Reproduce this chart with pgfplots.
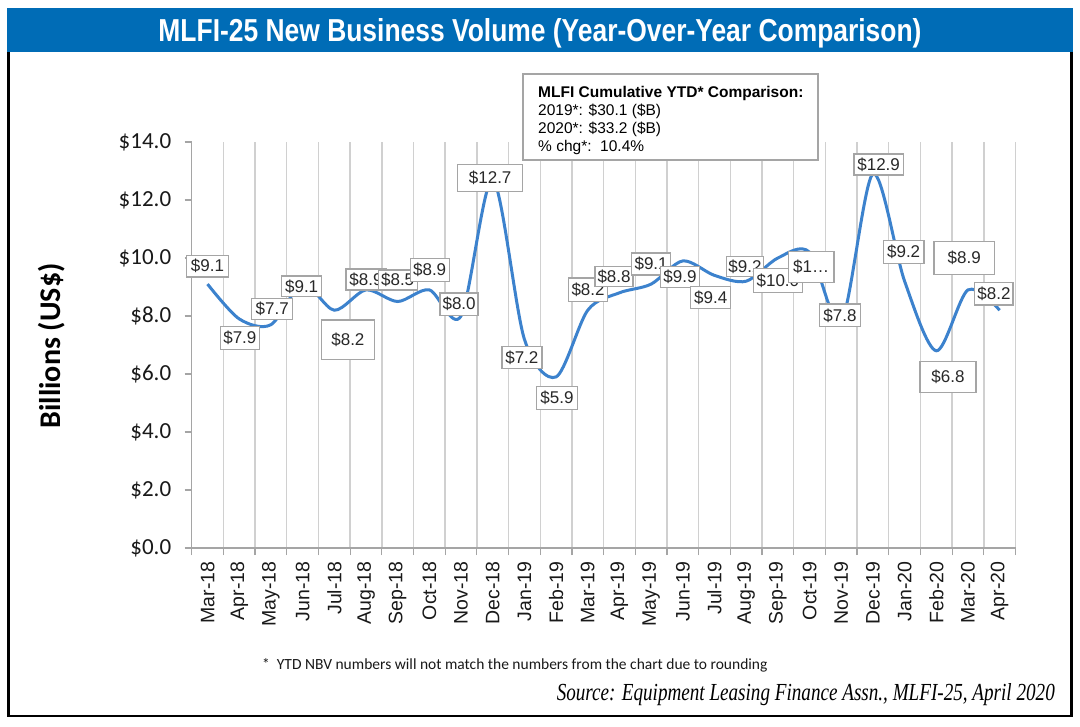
\documentclass[border=0pt]{standalone}
\usepackage{fontspec}
\setmainfont{Liberation Sans}
\newfontfamily\carlito{Carlito}
\newfontfamily\lserif{Liberation Serif}
\usepackage{graphicx}
\usepackage{pgfplots}
\usepackage{pgfplotstable}
\pgfplotsset{compat=1.18}
\definecolor{titleblue}{RGB}{0,108,182}
\definecolor{lineblue}{RGB}{60,130,205}
\definecolor{gridgray}{RGB}{208,208,208}
\definecolor{axisgray}{RGB}{165,165,165}
\definecolor{boxgray}{RGB}{165,165,165}
\definecolor{labeltext}{RGB}{40,40,40}
\definecolor{ticktext}{RGB}{25,25,25}

\pgfplotstableread{
x y
0 9.1
1 7.9
2 7.7
3 9.1
4 8.2
5 8.9
6 8.5
7 8.9
8 8.0
9 12.7
10 7.2
11 5.9
12 8.2
13 8.8
14 9.1
15 9.9
16 9.4
17 9.2
18 10.0
19 10.2
20 7.8
21 12.9
22 9.2
23 6.8
24 8.9
25 8.2
}\datatable

\pgfplotstableread{
lx ly w h t
0.00 9.72 41.6 21.7 \$9.1
1.02 7.24 39.3 22.6 \$7.9
2.04 8.24 41.0 21.0 \$7.7
2.97 9.02 40.0 20.7 \$9.1
4.43 7.18 53.3 39.3 \$8.2
5.00 9.26 40.0 21.0 \$8.9
6.00 9.24 39.0 20.0 \$8.5
7.01 9.59 39.0 22.7 \$8.9
7.94 8.41 38.0 22.3 \$8.0
8.92 12.76 65.0 27.0 \$12.7
9.92 6.57 40.0 21.6 \$7.2
11.03 5.17 40.6 23.0 \$5.9
12.01 8.90 39.0 23.7 \$8.2
12.83 9.36 38.0 20.0 \$8.8
14.00 9.79 39.0 22.0 \$9.1
14.91 9.34 39.3 20.6 \$9.9
15.88 8.64 40.0 21.6 \$9.4
16.96 9.70 36.7 20.0 \$9.2
18.00 9.22 48.7 24.4 \$10.0
19.05 9.69 45.7 31.0 \$1\ldots
19.96 8.02 40.7 22.7 \$7.8
21.18 13.22 49.3 21.0 \$12.9
21.97 10.21 40.7 22.6 \$9.2
23.37 5.90 56.0 31.0 \$6.8
23.88 10.00 60.3 33.3 \$8.9
24.82 8.76 38.3 22.3 \$8.2
}\labeltable

\begin{document}
\begin{tikzpicture}[x=1pt,y=1pt]
\useasboundingbox (0,0) rectangle (1080,-727);
\fill[white] (0,0) rectangle (1080,-727);
\draw[black, line width=2.5pt] (8.5,-14) rectangle (1071.5,-716);
\fill[titleblue] (7,-8) rectangle (1073,-52);
\node[anchor=base, text=white, inner sep=0pt] at (540,-41.5)
  {\resizebox{763pt}{23pt}{\bfseries MLFI-25 New Business Volume (Year-Over-Year Comparison)}};

\begin{axis}[
  at={(191.7pt,-548pt)}, anchor=south west,
  scale only axis, width=823.8pt, height=406pt,
  xmin=-0.5, xmax=25.5, ymin=0, ymax=14,
  clip=false,
  axis x line*=bottom, axis y line*=left,
  axis line style={draw=axisgray, line width=1.3pt, -},
  xtick={0,...,25},
  xticklabels={Mar-18,Apr-18,May-18,Jun-18,Jul-18,Aug-18,Sep-18,Oct-18,Nov-18,Dec-18,Jan-19,Feb-19,Mar-19,Apr-19,May-19,Jun-19,Jul-19,Aug-19,Sep-19,Oct-19,Nov-19,Dec-19,Jan-20,Feb-20,Mar-20,Apr-20},
  every major x tick/.append style={draw=none},
  minor xtick={-0.5,0.5,...,25.5},
  xminorgrids=true,
  minor x grid style={draw=gridgray, line width=1.4pt},
  tick align=outside,
  major tick length=7pt, minor tick length=7pt,
  every minor x tick/.append style={draw=axisgray, line width=1.2pt},
  every major y tick/.append style={draw=axisgray, line width=1.2pt},
  ytick={0,2,...,14},
  /pgf/number format/assume math mode=true,
  yticklabel={\$\pgfmathprintnumber[fixed,fixed zerofill,precision=1]{\tick}},
  yticklabel style={font=\carlito\fontsize{23}{23}\selectfont, text=ticktext},
  yticklabel shift=10pt,
  xticklabel style={rotate=90, anchor=east, font=\fontsize{19.5}{19.5}\selectfont, text=ticktext},
  xticklabel shift=3pt,
]
\addplot[smooth, tension=0.5, draw=lineblue, line width=3pt, mark=none] table[x=x, y=y] {\datatable};
\addplot[draw=none, mark=none, nodes near coords, point meta=explicit symbolic,
  nodes near coords align={center},
  visualization depends on={\thisrow{w}\as\bw},
  visualization depends on={\thisrow{h}\as\bh},
  every node near coord/.append style={anchor=center, draw=boxgray, line width=1.3pt, fill=white,
     text=labeltext, font=\fontsize{17}{17}\selectfont, inner sep=0pt,
     minimum width=\bw pt, minimum height=\bh pt}]
  table[x=lx, y=ly, meta=t] {\labeltable};
\end{axis}

\draw[boxgray, line width=1.5pt, fill=white] (523,-74) rectangle (818,-160);
\node[anchor=base west, inner sep=0pt, font=\bfseries\fontsize{15.5}{15.5}\selectfont] at (538,-97.7) {MLFI Cumulative YTD* Comparison:};
\node[anchor=base west, inner sep=0pt, font=\fontsize{15.5}{15.5}\selectfont] at (538,-115.6) {2019*: \$30.1 (\$B)};
\node[anchor=base west, inner sep=0pt, font=\fontsize{15.5}{15.5}\selectfont] at (538,-133.5) {2020*: \$33.2 (\$B)};
\node[anchor=base west, inner sep=0pt, font=\fontsize{15.5}{15.5}\selectfont] at (538,-151.4) {\% chg*:\ \ 10.4\%};

\node[rotate=90, font=\carlito\bfseries\fontsize{30}{30}\selectfont] at (52,-346) {Billions (US\$)};

\node[anchor=base west, inner sep=0pt, text=ticktext, font=\carlito\fontsize{15.5}{15.5}\selectfont] at (262,-669)
  {*\ \ YTD NBV numbers will not match the numbers from the chart due to rounding};
\node[anchor=base east, inner sep=0pt] at (1055,-700)
  {\resizebox{498pt}{17pt}{\lserif\itshape Source: Equipment Leasing Finance Assn., MLFI-25, April 2020}};
\end{tikzpicture}
\end{document}
